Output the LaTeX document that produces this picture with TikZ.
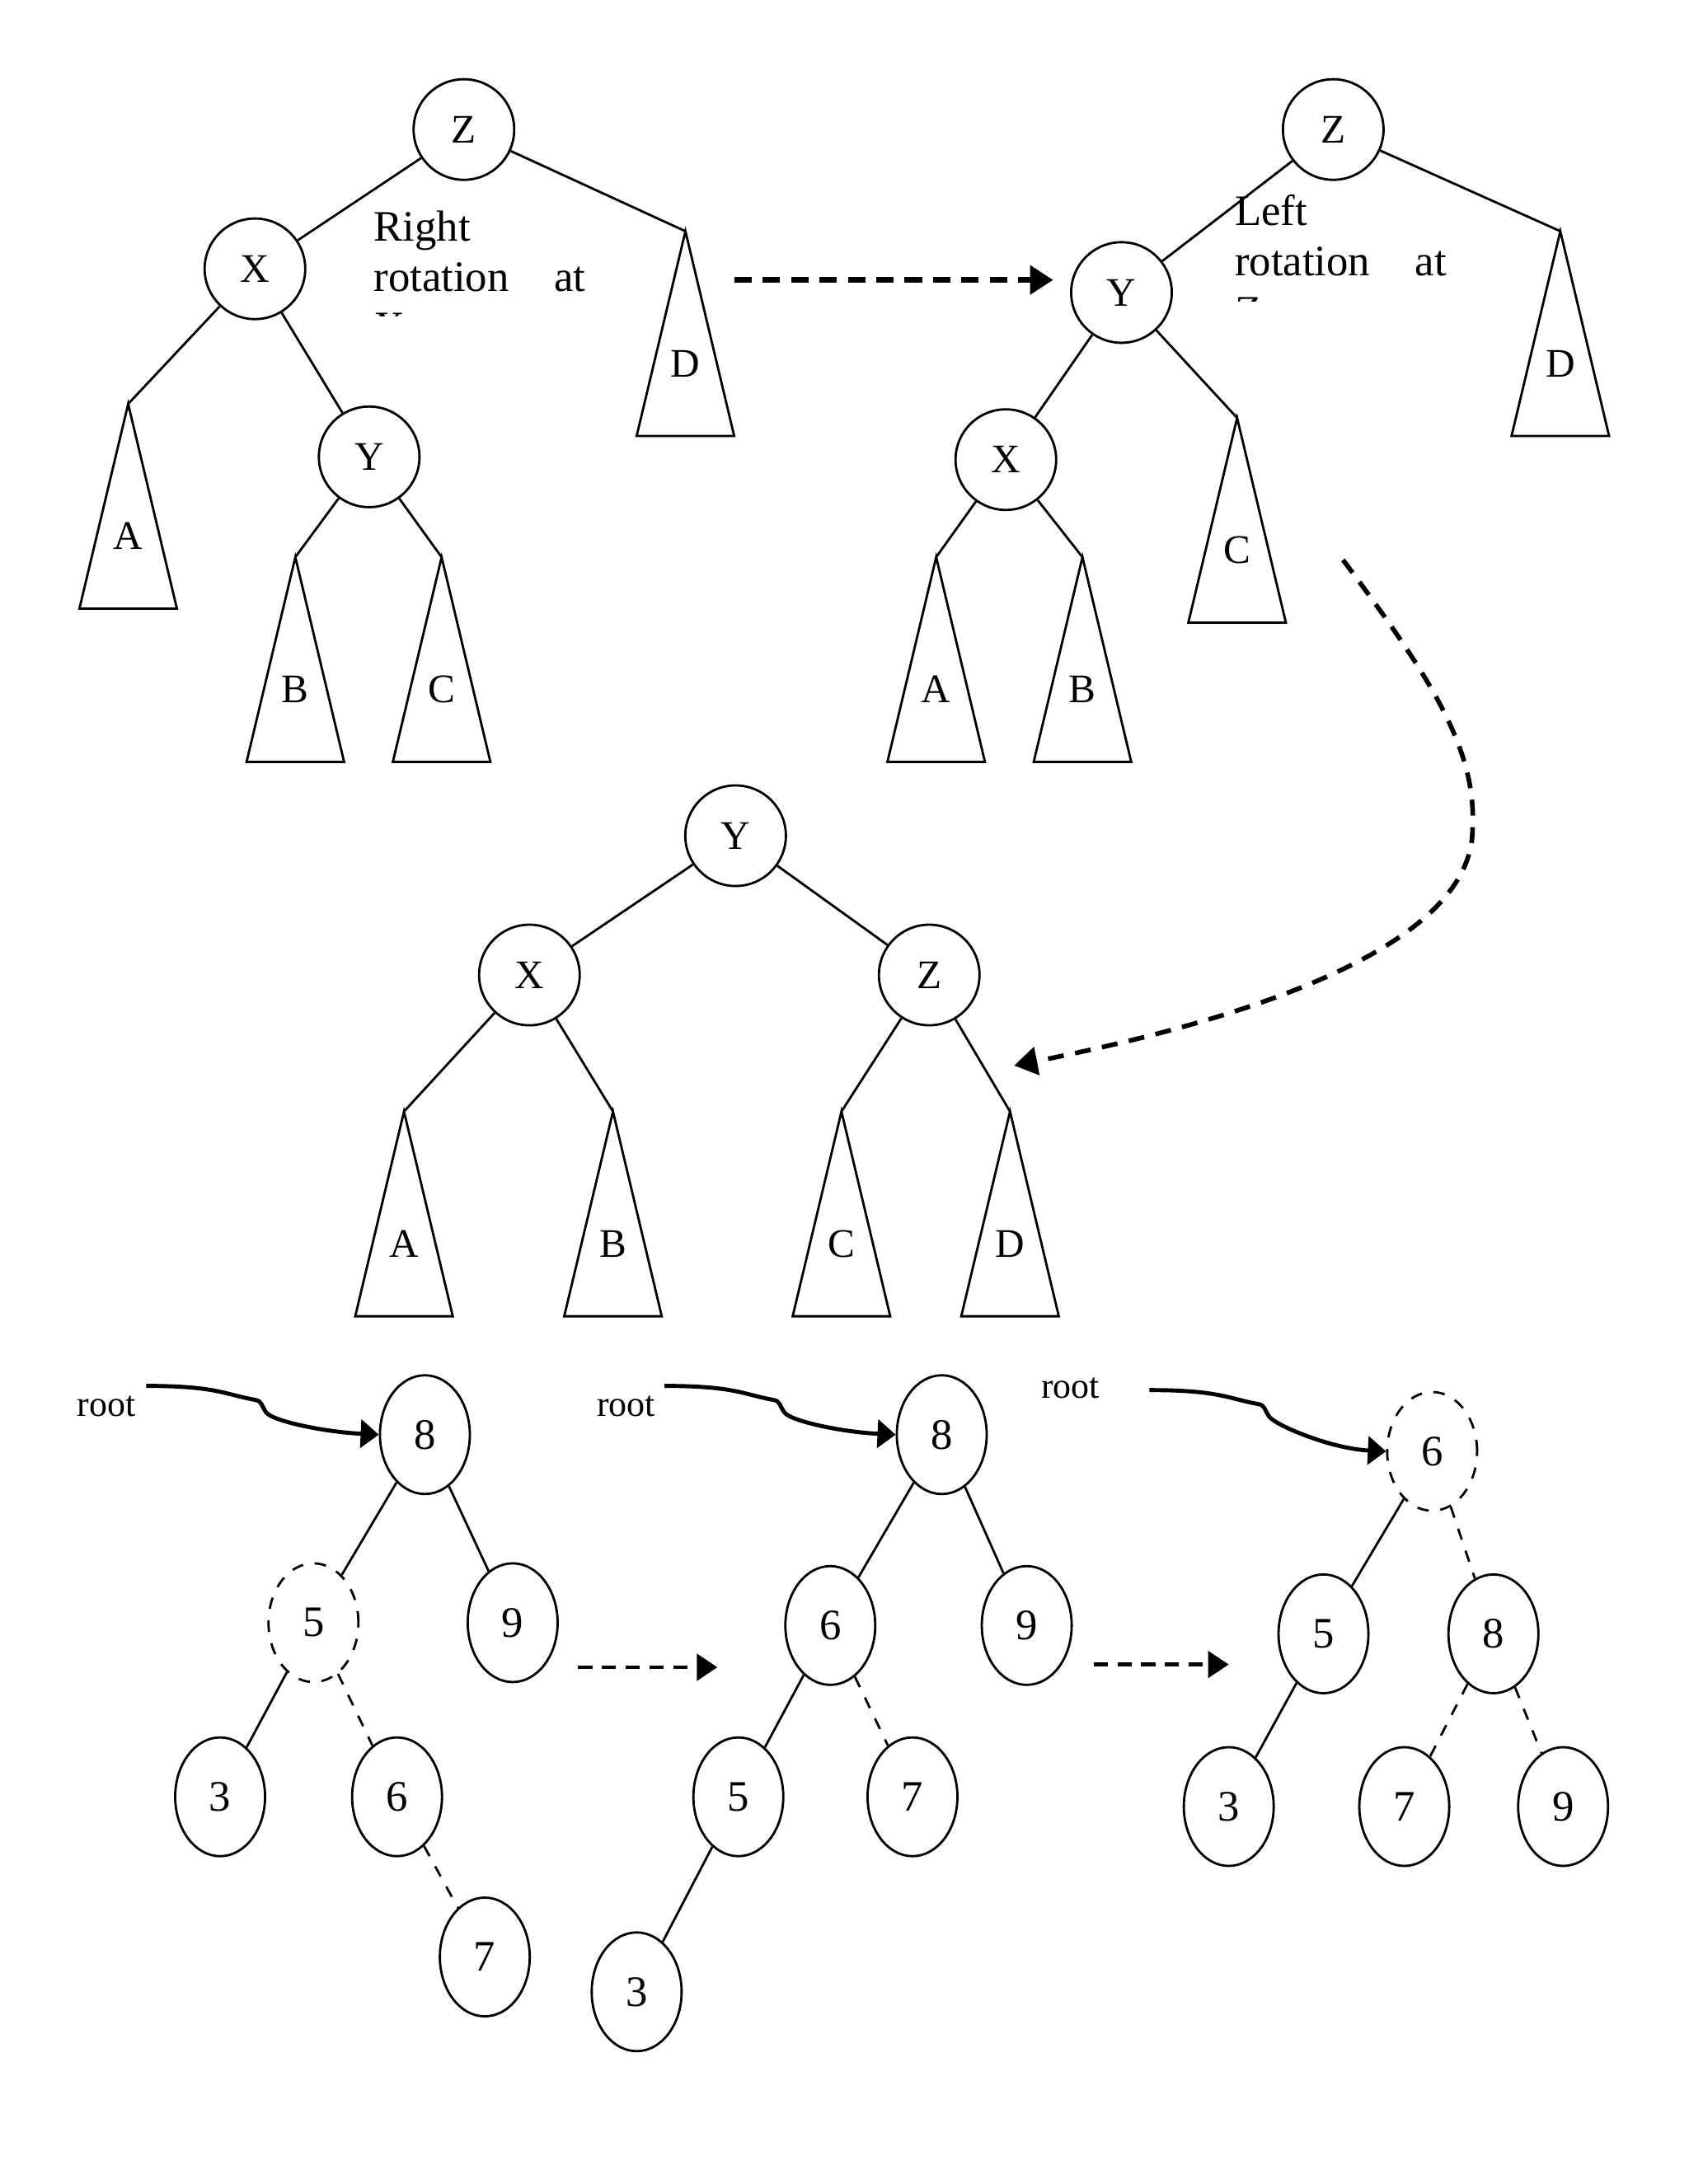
\documentclass[tikz,border=0pt]{standalone}
\usepackage{fontspec}
\setmainfont{Liberation Serif}
\usetikzlibrary{arrows.meta,shapes.geometric}

\tikzset{
  tnode/.style={circle, draw, line width=0.8pt, minimum size=1.22cm, inner sep=0pt, font=\fontsize{14}{16}\selectfont},
  knode/.style={ellipse, draw, line width=0.8pt, minimum width=1.09cm, minimum height=1.44cm, inner sep=0pt, font=\fontsize{15}{17}\selectfont},
  gone/.style={dash pattern=on 4pt off 4pt},
  edge/.style={line width=0.8pt},
  tlabel/.style={inner sep=0pt, font=\fontsize{14}{16}\selectfont},
  note/.style={inner sep=0pt, anchor=base west, font=\fontsize{15}{17}\selectfont},
  rootlbl/.style={inner sep=0pt, anchor=base west, font=\fontsize{12.5}{14}\selectfont},
  bigstep/.style={-{Triangle[length=2.8mm,width=3.4mm]}, line width=2pt, dash pattern=on 6pt off 3.8pt},
  bendstep/.style={-{Triangle[length=2.8mm,width=3.4mm]}, line width=1.6pt, dash pattern=on 5.5pt off 4pt},
  smallstep/.style={-{Triangle[length=2.5mm,width=3.2mm]}, line width=1.4pt, dash pattern=on 4.9pt off 3.3pt},
  rootarrow/.style={-{Triangle[length=2.2mm,width=3.4mm]}, line width=1.4pt},
}

% subtree triangle: name, apex, label
\newcommand{\subtree}[3]{%
  \coordinate (#1) at (#2);
  \draw[edge] (#1) -- ++(-35,147) -- ++(70,0) -- cycle;
  \path (#1) ++(0,95) node[tlabel] (#1-t) {#3};
}
% wavy root pointer: tail coordinate, target node
\newcommand{\rootlink}[2]{%
  \draw[rootarrow] (#1) .. controls +(50,0) and +(-22,-4) .. ++(78,10)
    .. controls +(5,1) and +(-4,-6) .. ++(8,9)
    .. controls +(4,6) and +(-40,-2) .. (#2.west);
}

\begin{document}
\begin{tikzpicture}[x=0.016898cm, y=-0.016898cm]
  \useasboundingbox (0,0) rectangle (1212,1568);

  % right rotation at X
  \node[tnode] (Z1) at (333,93) {Z};
  \node[tnode] (X1) at (183,193) {X};
  \node[tnode] (Y1) at (265,328) {Y};
  \foreach \nm/\px/\py/\txt in {A1/92/290/A, B1/212/400/B, C1/317/400/C, D1/492/166/D}
    {\subtree{\nm}{\px,\py}{\txt}}
  \draw[edge] (Z1) -- (X1);
  \draw[edge] (Z1) -- (D1);
  \draw[edge] (X1) -- (A1);
  \draw[edge] (X1) -- (Y1);
  \draw[edge] (Y1) -- (B1);
  \draw[edge] (Y1) -- (C1);
  \node[note] (rr1) at (268,173) {Right};
  \node[note] (rr2) at (268,209) {rotation\hspace{15.5pt}at};
  \begin{scope}
    \clip (250,180) rectangle (450,227);
    \node[note] (rr3) at (268,245) {X};
  \end{scope}

  \coordinate (s1) at (527,201);
  \coordinate (e1) at (756,201);
  \draw[bigstep] (s1) -- (e1);

  % left rotation at Z
  \node[tnode] (Z2) at (957,93) {Z};
  \node[tnode] (Y2) at (805,210) {Y};
  \node[tnode] (X2) at (722,330) {X};
  \foreach \nm/\px/\py/\txt in {A2/672/400/A, B2/777/400/B, C2/888/300/C, D2/1120/166/D}
    {\subtree{\nm}{\px,\py}{\txt}}
  \draw[edge] (Z2) -- (Y2);
  \draw[edge] (Z2) -- (D2);
  \draw[edge] (Y2) -- (X2);
  \draw[edge] (Y2) -- (C2);
  \draw[edge] (X2) -- (A2);
  \draw[edge] (X2) -- (B2);
  \node[note] (lr1) at (886,162) {Left};
  \node[note] (lr2) at (886,198) {rotation\hspace{15.5pt}at};
  \begin{scope}
    \clip (870,170) rectangle (1060,216);
    \node[note] (lr3) at (886,234) {Z};
  \end{scope}

  \coordinate (s2) at (964,402);
  \coordinate (e2) at (728,765);
  \draw[bendstep] (s2) .. controls (1030,490) and (1060,540) .. (1057,595)
    .. controls (1057,670) and (930,725) .. (e2);

  % balanced result
  \node[tnode] (Y3) at (528,600) {Y};
  \node[tnode] (X3) at (380,700) {X};
  \node[tnode] (Z3) at (667,700) {Z};
  \foreach \nm/\px/\py/\txt in {A3/290/798/A, B3/440/798/B, C3/604/798/C, D3/725/798/D}
    {\subtree{\nm}{\px,\py}{\txt}}
  \draw[edge] (Y3) -- (X3);
  \draw[edge] (Y3) -- (Z3);
  \draw[edge] (X3) -- (A3);
  \draw[edge] (X3) -- (B3);
  \draw[edge] (Z3) -- (C3);
  \draw[edge] (Z3) -- (D3);

  % key tree, step 1
  \node[rootlbl] (root1) at (55,1017) {root};
  \coordinate (tail1) at (105,995);
  \node[knode] (t1n8) at (305,1030) {8};
  \node[knode, gone] (t1n5) at (225,1165) {5};
  \node[knode] (t1n9) at (368,1165) {9};
  \node[knode] (t1n3) at (158,1290) {3};
  \node[knode] (t1n6) at (285,1290) {6};
  \node[knode] (t1n7) at (348,1405) {7};
  \rootlink{tail1}{t1n8}
  \draw[edge] (t1n8) -- (t1n5);
  \draw[edge] (t1n8) -- (t1n9);
  \draw[edge] (t1n5) -- (t1n3);
  \draw[edge, gone] (t1n5) -- (t1n6);
  \draw[edge, gone] (t1n6) -- (t1n7);

  \coordinate (s3) at (415,1197);
  \coordinate (e3) at (515,1197);
  \draw[smallstep] (s3) -- (e3);

  % key tree, step 2
  \node[rootlbl] (root2) at (428,1017) {root};
  \coordinate (tail2) at (477,995);
  \node[knode] (t2n8) at (676,1030) {8};
  \node[knode] (t2n6) at (596,1167) {6};
  \node[knode] (t2n9) at (737,1167) {9};
  \node[knode] (t2n5) at (530,1290) {5};
  \node[knode] (t2n7) at (655,1290) {7};
  \node[knode] (t2n3) at (457,1430) {3};
  \rootlink{tail2}{t2n8}
  \draw[edge] (t2n8) -- (t2n6);
  \draw[edge] (t2n8) -- (t2n9);
  \draw[edge] (t2n6) -- (t2n5);
  \draw[edge, gone] (t2n6) -- (t2n7);
  \draw[edge] (t2n5) -- (t2n3);

  \coordinate (s4) at (785,1195);
  \coordinate (e4) at (882,1195);
  \draw[smallstep] (s4) -- (e4);

  % key tree, step 3
  \node[rootlbl] (root3) at (747,1004) {root};
  \coordinate (tail3) at (825,998);
  \node[knode, gone] (t3n6) at (1028,1042) {6};
  \node[knode] (t3n5) at (950,1173) {5};
  \node[knode] (t3n8) at (1072,1173) {8};
  \node[knode] (t3n3) at (882,1297) {3};
  \node[knode] (t3n7) at (1008,1297) {7};
  \node[knode] (t3n9) at (1122,1297) {9};
  \rootlink{tail3}{t3n6}
  \draw[edge] (t3n6) -- (t3n5);
  \draw[edge, gone] (t3n6) -- (t3n8);
  \draw[edge] (t3n5) -- (t3n3);
  \draw[edge, gone] (t3n8) -- (t3n7);
  \draw[edge, gone] (t3n8) -- (t3n9);
\end{tikzpicture}
\end{document}
